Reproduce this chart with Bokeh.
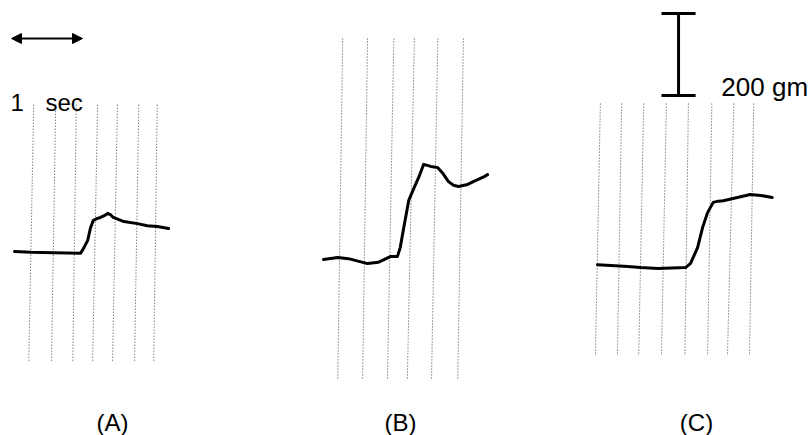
from bokeh.plotting import figure
from bokeh.models import Range1d, Arrow, NormalHead
from bokeh.core.properties import value
from bokeh.embed import file_html
from bokeh.resources import INLINE

# ---------------- data (time in s, force in gm, relative to each trace's start) ----
A_t = [0.00, 0.23, 0.55, 0.93, 0.97, 1.03, 1.07, 1.11, 1.16, 1.21, 1.27, 1.31, 1.35, 1.39,
       1.54, 1.73, 1.87, 2.01, 2.17]
A_g = [0, -2, -3, -4, 7, 27, 58, 76, 80, 83, 88, 93, 90, 83, 73, 68, 63, 61, 56]

B_t = [0.00, 0.20, 0.35, 0.62, 0.77, 0.94, 1.04, 1.08, 1.13, 1.20, 1.27, 1.34, 1.41,
       1.51, 1.61, 1.68, 1.76, 1.83, 1.90, 2.03, 2.11, 2.24, 2.31]
B_g = [0, 5, 2, -10, -7, 7, 7, 29, 78, 144, 173, 200, 232, 227, 224, 210, 190, 181, 178,
       183, 190, 200, 207]

C_t = [0.00, 0.37, 0.61, 0.85, 1.24, 1.31, 1.41, 1.48, 1.55, 1.63, 1.70, 1.77, 1.97, 2.15,
       2.30, 2.46]
C_g = [2, -2, -5, -7, -5, 5, 44, 93, 129, 154, 157, 158, 166, 173, 171, 166]

# chart-paper timing lines (top / bottom time of each slanted line)
A_grid_top = [0.27, 0.58, 0.87, 1.17, 1.45, 1.75, 2.01]
A_grid_bot = [0.20, 0.52, 0.82, 1.10, 1.38, 1.69, 1.96]
B_grid_top = [0.27, 0.62, 0.99, 1.28, 1.61, 1.97]
B_grid_bot = [0.20, 0.55, 0.90, 1.18, 1.52, 1.89]
C_grid_top = [0.04, 0.34, 0.65, 0.97, 1.28, 1.61, 1.92, 2.20]
C_grid_bot = [-0.03, 0.28, 0.58, 0.90, 1.23, 1.55, 1.83, 2.14]

panel_labels = ["(A)", "(B)", "(C)"]
time_scale_s = 1.0
force_scale_gm = 200
time_label = ["1", "sec"]
force_label = "200 gm"

# ---------------- layout ----------------------------------------------------------
PX_PER_S = 71.0
PX_PER_GM = 0.41
W, H = 810, 435

# panel origins (s, gm) and vertical extent of the timing lines (gm, relative)
panels = [
    dict(t=A_t, g=A_g, gt=A_grid_top, gb=A_grid_bot, x0=0.198, y0=448.8, top=358, bot=-268,
         lab_x=1.578, lab_y=31.7),
    dict(t=B_t, g=B_g, gt=B_grid_top, gb=B_grid_bot, x0=4.550, y0=429.3, top=539, bot=-295,
         lab_x=5.633, lab_y=31.7),
    dict(t=C_t, g=C_g, gt=C_grid_top, gb=C_grid_bot, x0=8.409, y0=414.6, top=395, bot=-220,
         lab_x=9.803, lab_y=31.7),
]

p = figure(width=W, height=H, output_backend="svg", toolbar_location=None,
           x_range=Range1d(0, W / PX_PER_S), y_range=Range1d(0, H / PX_PER_GM),
           min_border=0, x_axis_location=None, y_axis_location=None,
           background_fill_color="white", border_fill_color="white")
p.outline_line_color = None
p.xgrid.visible = False
p.ygrid.visible = False

FONT = value("Liberation Sans")

for i, pn in enumerate(panels):
    x0, y0 = pn["x0"], pn["y0"]
    p.segment(x0=[x0 + v for v in pn["gt"]], y0=[y0 + pn["top"]] * len(pn["gt"]),
              x1=[x0 + v for v in pn["gb"]], y1=[y0 + pn["bot"]] * len(pn["gb"]),
              line_color="#303030", line_width=1, line_dash="1 2", line_alpha=0.9)
    p.line([x0 + v for v in pn["t"]], [y0 + v for v in pn["g"]],
           line_color="black", line_width=3, line_join="round", line_cap="round")
    p.text(x=[pn["lab_x"]], y=[pn["lab_y"]], text=[panel_labels[i]],
           text_font=FONT, text_font_size="24px", text_align="center",
           text_baseline="alphabetic", text_color="black")

# time scale arrow (1 sec)
ax0, ay = 0.155, 968.3
p.add_layout(Arrow(x_start=ax0, y_start=ay, x_end=ax0 + time_scale_s, y_end=ay,
                   line_width=2, line_color="black",
                   start=NormalHead(size=10, fill_color="black", line_color="black"),
                   end=NormalHead(size=10, fill_color="black", line_color="black")))
p.text(x=[0.141, 0.634], y=[812.2, 812.2], text=time_label, text_font=FONT,
       text_font_size="24px", text_align="left", text_baseline="alphabetic",
       text_color="black")

# force scale bar (200 gm)
bx, by = 9.550, 829.3
cap = 0.24
p.segment(x0=[bx, bx - cap, bx - cap], y0=[by, by, by + force_scale_gm],
          x1=[bx, bx + cap, bx + cap], y1=[by + force_scale_gm, by, by + force_scale_gm],
          line_color="black", line_width=3)
p.text(x=[10.153], y=[851.2], text=[force_label], text_font=FONT,
       text_font_size="26px", text_align="left", text_baseline="alphabetic",
       text_color="black")

open("out.html", "w").write(file_html(p, INLINE))
